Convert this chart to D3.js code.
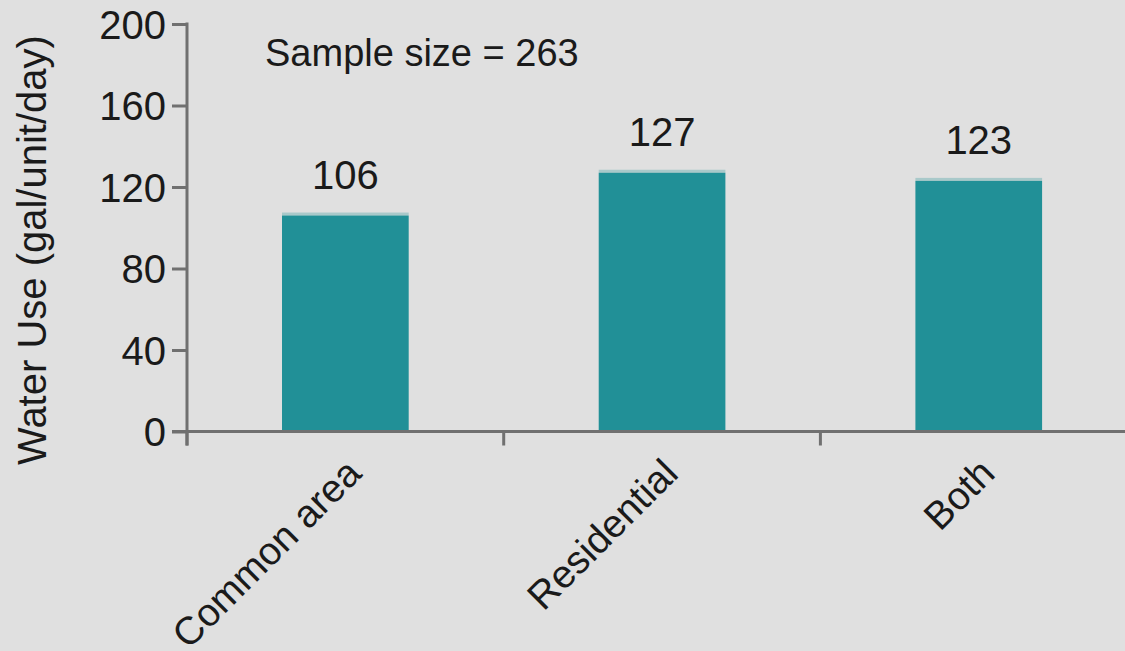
<!DOCTYPE html>
<html>
<head>
<meta charset="utf-8">
<script src="https://cdn.jsdelivr.net/npm/d3@7/dist/d3.min.js"></script>
<style>
  html, body { margin: 0; padding: 0; background: #e0e0e0; }
  svg { display: block; }
  text { font-family: "Liberation Sans", Arial, Helvetica, sans-serif; fill: #1a1a1a; }
</style>
</head>
<body>
<svg id="chart" width="1125" height="651"></svg>
<script>
const categories = ["Common area", "Residential", "Both"];
const values = [106, 127, 123];
const yTicks = [0, 40, 80, 120, 160, 200];
const yLabel = "Water Use (gal/unit/day)";
const note = "Sample size = 263";

const W = 1125, H = 651;
const svg = d3.select("#chart");
svg.append("rect").attr("width", W).attr("height", H).attr("fill", "#e0e0e0");

const x0 = 187, yBase = 431.5, yTop = 24;
const x = d3.scaleBand().domain(categories).range([x0, x0 + 3 * 316.7]).padding(0);
const y = d3.scaleLinear().domain([0, 200]).range([yBase, yTop]);
const axisColor = "#707070";
const teal = "#229198";
const barW = x.bandwidth() * 0.4;

// bars (with light top edge)
const g = svg.append("g");
categories.forEach((c, i) => {
  const cx = x(c) + x.bandwidth() / 2;
  g.append("rect")
    .attr("x", cx - barW / 2).attr("y", y(values[i]) - 3)
    .attr("width", barW).attr("height", 3)
    .attr("fill", "#a9c9ca");
  g.append("rect")
    .attr("x", cx - barW / 2).attr("y", y(values[i]))
    .attr("width", barW).attr("height", yBase - y(values[i]))
    .attr("fill", "#219097");
  g.append("text")
    .attr("x", cx).attr("y", y(values[i]) - 27)
    .attr("text-anchor", "middle")
    .attr("font-size", 40)
    .text(values[i]);
});

// y axis
const yAxis = d3.axisLeft(y).tickValues(yTicks).tickSize(15).tickSizeOuter(0).tickPadding(6);
const ya = svg.append("g").attr("transform", `translate(${x0},0)`).call(yAxis);
ya.select(".domain").remove();
ya.selectAll(".tick line").attr("stroke", axisColor).attr("stroke-width", 3);
ya.selectAll(".tick text").attr("font-size", 40).attr("font-family", "Liberation Sans, Arial, sans-serif").attr("fill", "#1a1a1a").attr("dy", "0.35em");
svg.append("line").attr("x1", x0).attr("x2", x0).attr("y1", yTop - 1.5).attr("y2", yBase + 14)
  .attr("stroke", axisColor).attr("stroke-width", 3);

// x axis
svg.append("line").attr("x1", x0 - 15).attr("x2", W).attr("y1", yBase).attr("y2", yBase)
  .attr("stroke", axisColor).attr("stroke-width", 3);
categories.forEach(c => {
  svg.append("line").attr("x1", x(c)).attr("x2", x(c)).attr("y1", yBase).attr("y2", yBase + 14)
    .attr("stroke", axisColor).attr("stroke-width", 3);
});
categories.forEach(c => {
  const cx = x(c) + x.bandwidth() / 2;
  svg.append("text")
    .attr("transform", `translate(${cx + 18},${yBase + 44}) rotate(-45)`)
    .attr("text-anchor", "end")
    .attr("font-size", 39)
    .text(c);
});

// y label
svg.append("text")
  .attr("transform", `translate(46,250) rotate(-90)`)
  .attr("text-anchor", "middle")
  .attr("font-size", 40)
  .text(yLabel);

// note
svg.append("text").attr("x", 265).attr("y", 66).attr("font-size", 38).text(note);
</script>
</body>
</html>
